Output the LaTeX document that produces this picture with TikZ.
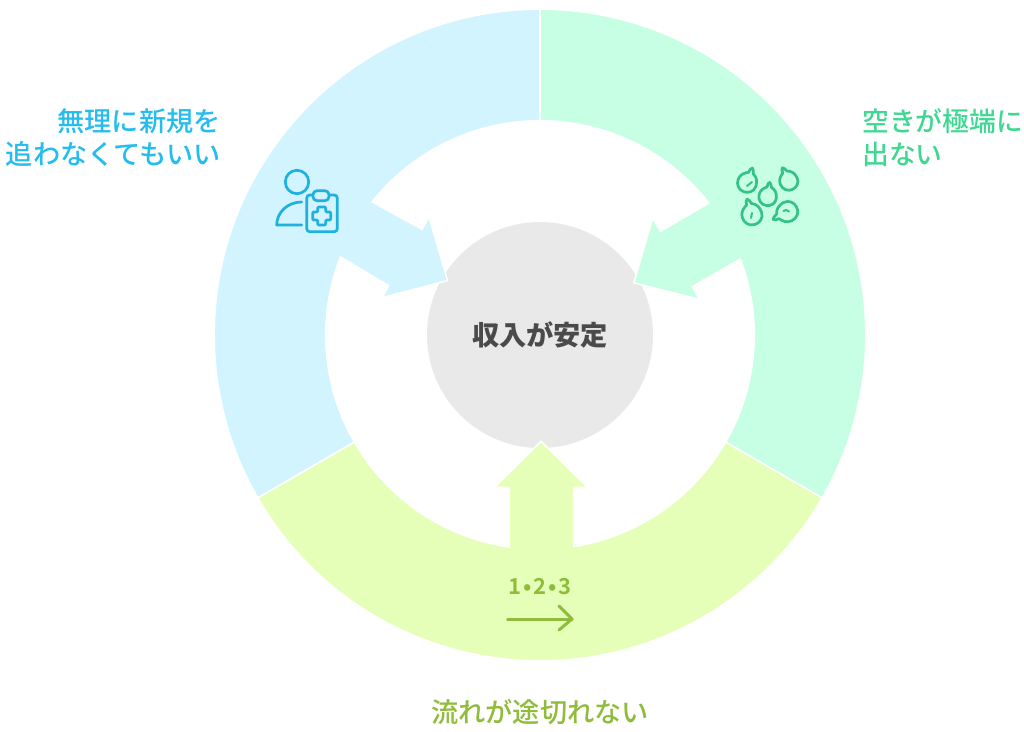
\documentclass[tikz,border=0pt]{standalone}
\usepackage{fontspec}
\setmainfont{Noto Sans CJK JP}[UprightFont=* Medium]
\newfontfamily\stepsfont{Noto Sans CJK JP Bold}
\definecolor{segblue}{HTML}{D1F4FF}
\definecolor{seggreen}{HTML}{C6FFE3}
\definecolor{segyellow}{HTML}{E6FFB8}
\definecolor{hubgray}{HTML}{E9E9E9}
\definecolor{txtblue}{HTML}{25BDEE}
\definecolor{txtgreen}{HTML}{3FD892}
\definecolor{txtolive}{HTML}{90BC3B}
\definecolor{icoblue}{HTML}{1FB0DE}
\definecolor{icogreen}{HTML}{34C285}
\definecolor{hubtext}{HTML}{4A4A4A}
\tikzset{
  x=1pt,y=1pt,
  segment/.style={draw=white,line width=1.5pt,line join=miter},
  label/.style={font=\fontsize{27.2}{33}\selectfont,inner sep=0pt},
  icoB/.style={draw=icoblue,line width=2.7pt,line cap=round,line join=round},
  icoG/.style={draw=icogreen,line width=2.7pt,line cap=round,line join=round},
  flowline/.style={draw=txtolive,line width=3pt,line cap=round,line join=round},
  seed/.pic={
    \path[icoG] (0,15) .. controls (1.5,15) and (1.8,12) .. (3,9.5)
      .. controls (7,8) and (10,4) .. (10,-2)
      .. controls (10,-8) and (5,-11.5) .. (0,-11.5)
      .. controls (-6,-11.5) and (-10,-7) .. (-10,-1)
      .. controls (-10,5) and (-5,8) .. (-2.2,9.5)
      .. controls (-2,12) and (-1.5,15) .. (0,15) -- cycle;
  },
}
\begin{document}
\begin{tikzpicture}
% origin = ring centre, at pixel (540,335)
\useasboundingbox (-540,-396) rectangle (484,335);
\fill[white] (-540,-396) rectangle (484,335);

\node[circle,fill=hubgray,minimum size=226pt,inner sep=0pt,font=\fontsize{27.2}{30}\selectfont\bfseries,text=hubtext] (hub) at (0,0) {収入が安定};

% left segment
\path[segment,fill=segblue] (90:325.8pt) arc[start angle=90,end angle=210,radius=325.8pt]
  -- (210:214.3pt) arc[start angle=210,end angle=158.6,radius=214.3pt]
  -- (-151.3,49.4) -- (-157.5,37.5) -- (-92.5,54.5) -- (-111,118) -- (-118,105.6) -- (141.6:214.3pt)
  arc[start angle=141.6,end angle=90,radius=214.3pt] -- cycle;
% right segment
\path[segment,fill=seggreen] (90:325.8pt) arc[start angle=90,end angle=-30,radius=325.8pt]
  -- (-30:214.3pt) arc[start angle=-30,end angle=20.8,radius=214.3pt]
  -- (152.3,48.4) -- (159.5,35.5) -- (93.9,52.2) -- (112.7,117) -- (120.4,103.6) -- (38:214.3pt)
  arc[start angle=38,end angle=90,radius=214.3pt] -- cycle;
% bottom segment
\path[segment,fill=segyellow] (210:325.8pt) arc[start angle=210,end angle=330,radius=325.8pt]
  -- (-30:214.3pt) arc[start angle=-30,end angle=-80.95,radius=214.3pt]
  -- (33.7,-152.3) -- (47.5,-152.3) -- (1,-106.3) -- (-45.5,-152.3) -- (-30.7,-152.3) -- (261.76:214.3pt)
  arc[start angle=261.76,end angle=210,radius=214.3pt] -- cycle;

% labels
\node[label,text=txtblue,align=right,anchor=east] (lblblue) at (-319,197.5) {無理に新規を\\追わなくてもいい};
\node[label,text=txtgreen,align=left,anchor=west,font=\fontsize{26.8}{33}\selectfont] (lblgreen) at (322,197.5) {空きが極端に\\出ない};
\node[label,text=txtolive] (lblolive) at (0,-377) {流れが途切れない};
\node[inner sep=0pt,text=txtolive,font=\stepsfont\fontsize{22}{24}\selectfont] (steps) at (0,-252) {1\kern2pt•\kern2pt2\kern2pt•\kern2pt3};

% flow arrow
\coordinate (flowa) at (-32.5,-284);
\coordinate (flowb) at (32,-284);
\draw[flowline] (flowa) -- (flowb);
\draw[flowline] (19,-271) -- (flowb) -- (19,-295);

% person + clipboard icon
\path[icoB] (-243,153) circle (11.7pt);
\path[icoB] (-238.3,133) .. controls (-253,133) and (-263.3,122) .. (-263.3,110) -- (-238.3,110);
\path[icoB,rounded corners=3pt] (-233.3,140) rectangle (-202.7,103.3);
\path[icoB,fill=segblue,rounded corners=4pt] (-227,144.3) rectangle (-211,134.3);
\path[icoB,rounded corners=1pt] (-222.3,128) -- (-214.3,128) -- (-214.3,123) -- (-209.3,123) -- (-209.3,115) -- (-214.3,115) -- (-214.3,110) -- (-222.3,110) -- (-222.3,115) -- (-227.3,115) -- (-227.3,123) -- (-222.3,123) -- cycle;

% seeds icon
\pic[rotate=-20,scale=.95] at (207.5,153.5) {seed};
\pic[rotate=25,scale=.9] at (248.2,155) {seed};
\pic[rotate=-8,scale=.88] at (227.8,139.5) {seed};
\pic[rotate=17,scale=1] at (211.5,121.5) {seed};
\pic[rotate=118,scale=1] at (246.4,122.7) {seed};
\path[icoG,line width=2pt] (207,149) -- (212,153);
\path[icoG,line width=2pt] (212,122) -- (211,117);
\path[icoG,line width=2pt] (243.5,124) .. controls (245,125.5) and (247,125.5) .. (249,123.5);
\end{tikzpicture}
\end{document}
